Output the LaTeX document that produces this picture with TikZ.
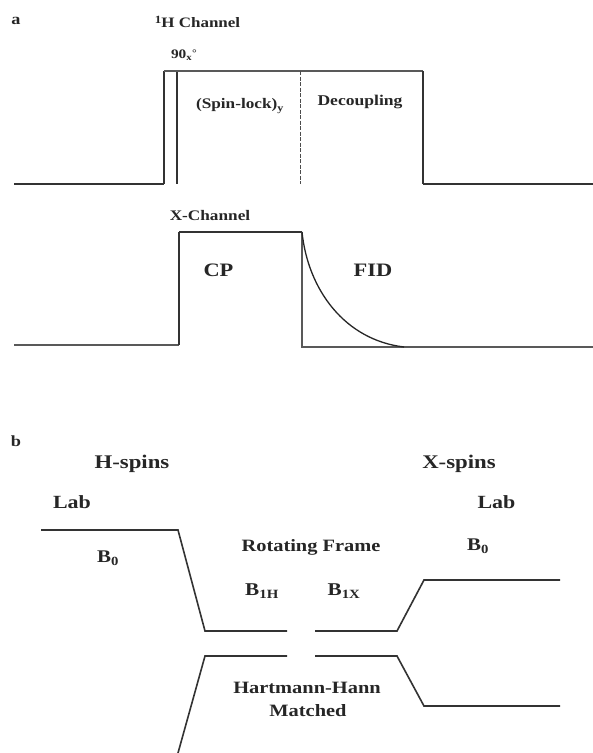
\documentclass[tikz,border=0pt]{standalone}
\usepackage{fontspec}
\setmainfont[FakeStretch=1.18]{Liberation Serif}
\tikzset{
  lab/.style={font=\bfseries\fontsize{#1}{#1}\selectfont, text=black!85, inner sep=0pt, anchor=center},
  lab/.default=14,
  thick line/.style={draw=black!80, line width=2.2pt, line join=miter},
  mid line/.style={draw=black!80, line width=1.6pt, line join=miter},
  thin line/.style={draw=black!65, line width=1.1pt, line join=miter}
}
\begin{document}
\begin{tikzpicture}[x=1pt,y=-1pt]
\useasboundingbox (0,0) rectangle (593,753);
\fill[white] (0,0) rectangle (593,753);
% labels, panel a
\node[lab=15.5] (a) at (16,21) {a};
\node[lab=14.4] (hch) at (197.5,22) {\raisebox{4pt}{\fontsize{11}{11}\selectfont 1}H Channel};
\node[lab=13] (ninety) at (184,55) {90\textsubscript{x}\raisebox{2pt}{\fontsize{10}{10}\selectfont °}};
\node[lab=14.6] (spin) at (240,106) {(Spin-lock)\textsubscript{y}};
\node[lab=14.9] (dec) at (360,102) {Decoupling};
\node[lab=14.6] (xch) at (210,216) {X-Channel};
\node[lab=19] (cp) at (218.5,270) {CP};
\node[lab=19] (fid) at (373,270) {FID};
% panel a, H channel
\coordinate (h0) at (14,184); \coordinate (h1) at (164,184); \coordinate (h2) at (164,71);
\coordinate (h3) at (177,71); \coordinate (h4) at (177,184); \coordinate (h5) at (423,71);
\coordinate (h6) at (423,184); \coordinate (h7) at (593,184);
\coordinate (d0) at (300,71); \coordinate (d1) at (300,184);
\draw[thick line] (h0) -- (h1);
\draw[mid line] (h1) -- (h2);
\draw[mid line] (h3) -- (h4);
\draw[thin line] (h2) -- (h5);
\draw[mid line] (h5) -- (h6);
\draw[thick line] (h6) -- (h7);
\draw[black!70, line width=.8pt, dash pattern=on 4pt off 1.5pt] (d0) -- (d1);
% panel a, X channel
\coordinate (x0) at (14,345); \coordinate (x1) at (179,345); \coordinate (x2) at (179,232);
\coordinate (x3) at (302,232); \coordinate (x4) at (302,347); \coordinate (x5) at (593,347);
\coordinate (f) at (404,347);
\draw[thin line] (x0) -- (x1);
\draw[mid line] (x1) -- (x2);
\draw[thick line] (x2) -- (x3);
\draw[thin line] (x3) -- (x4) -- (x5);
\draw[black!85, line width=1.3pt] (x3) .. controls (308,290) and (345,340) .. (f);
% panel b labels
\node[lab=15.5] (b) at (16,441) {b};
\node[lab=19.3] (hs) at (132,464) {H-spins};
\node[lab=19.3] (xs) at (459,464) {X-spins};
\node[lab=18.6] (lab1) at (72,502) {Lab};
\node[lab=18.6] (lab2) at (496.5,502) {Lab};
\node[lab=17.8] (b0l) at (108,558) {B\textsubscript{0}};
\node[lab=17.8] (b0r) at (478,546) {B\textsubscript{0}};
\node[lab=17.3] (rf) at (311,547) {Rotating Frame};
\node[lab=18] (b1h) at (262,591) {B\textsubscript{1H}};
\node[lab=18] (b1x) at (344,591) {B\textsubscript{1X}};
\node[lab=17.3] (hh) at (307,688) {Hartmann-Hann};
\node[lab=17.3] (mt) at (308,711) {Matched};
% panel b lines
\coordinate (a0) at (41,530); \coordinate (a1) at (178,530); \coordinate (a2) at (205,631); \coordinate (a3) at (287,631);
\coordinate (a4) at (315,631); \coordinate (a5) at (397,631); \coordinate (a6) at (424,580); \coordinate (a7) at (560,580);
\coordinate (c0) at (178,753); \coordinate (c1) at (205,656); \coordinate (c2) at (287,656);
\coordinate (c3) at (315,656); \coordinate (c4) at (397,656); \coordinate (c5) at (424,706); \coordinate (c6) at (560,706);
\draw[mid line] (a0) -- (a1) -- (a2) -- (a3);
\draw[mid line] (a4) -- (a5) -- (a6) -- (a7);
\draw[mid line] (c0) -- (c1) -- (c2);
\draw[mid line] (c3) -- (c4) -- (c5) -- (c6);
\end{tikzpicture}
\end{document}
